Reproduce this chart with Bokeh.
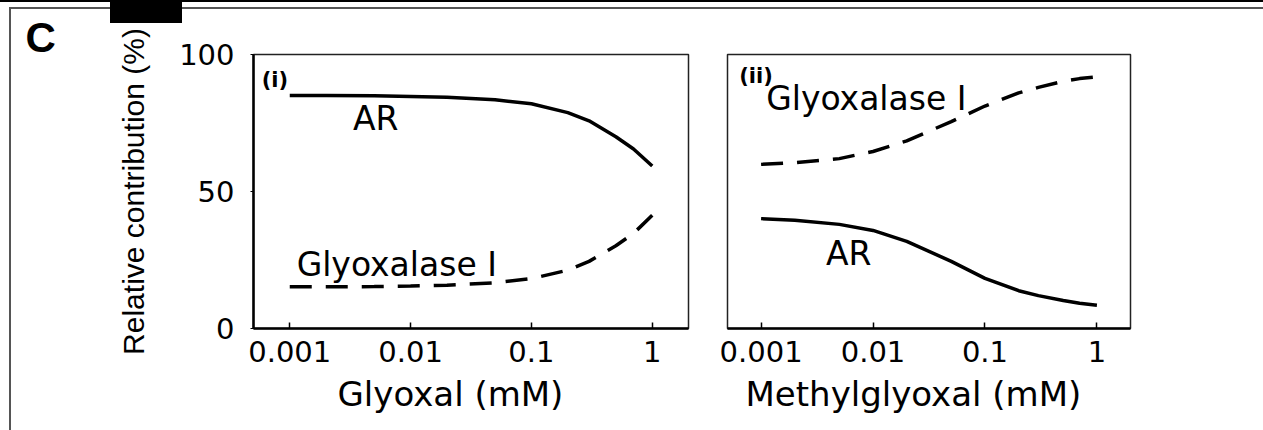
from bokeh.plotting import figure
from bokeh.models import Range1d, FixedTicker, Label, Title
from bokeh.layouts import row
from bokeh.embed import file_html
from bokeh.resources import INLINE

# ---- data ----
conc = [0.001, 0.002, 0.005, 0.01, 0.02, 0.05, 0.1, 0.2, 0.3, 0.5, 0.7, 1.0]

glyoxal_ar = [85.0, 85.0, 84.9, 84.7, 84.4, 83.5, 82.0, 78.8, 75.8, 70.0, 65.5, 59.3]
glyoxal_glo1 = [15.2, 15.2, 15.3, 15.5, 15.8, 16.7, 18.2, 21.3, 24.5, 30.2, 34.7, 41.3]

mgo_glo1 = [59.9, 60.5, 62.0, 64.6, 68.5, 75.5, 81.2, 86.0, 88.0, 90.2, 91.2, 91.8]
mgo_ar = [40.1, 39.5, 38.0, 35.8, 31.8, 24.5, 18.3, 13.8, 12.0, 10.2, 9.2, 8.5]

x_ticks = [0.001, 0.01, 0.1, 1.0]
x_tick_labels = ["0.001", "0.01", "0.1", "1"]
y_ticks = [0, 50, 100]

x_lo, x_hi = 10 ** -3.3, 10 ** 0.3

TXT = "DejaVu Sans"
TICK_SIZE = "29px"
TITLE_SIZE = "34px"
CURVE_LABEL_SIZE = "33px"


def style(p):
    p.outline_line_color = "#222222"
    p.outline_line_width = 1.5
    p.grid.visible = False
    p.background_fill_color = "white"
    p.border_fill_color = None
    ax = p.xaxis[0]
    ax.ticker = FixedTicker(ticks=x_ticks)
    ax.major_label_overrides = {t: l for t, l in zip(x_ticks, x_tick_labels)}
    ax.minor_tick_line_color = None
    ax.major_tick_in = 6
    ax.major_tick_out = 0
    ax.major_tick_line_width = 1.5
    ax.axis_line_width = 2.5
    ax.major_label_standoff = 12
    ax.major_label_text_font = TXT
    ax.major_label_text_font_size = TICK_SIZE
    ax.major_label_text_color = "black"


def xtitle(p, text, offset):
    p.add_layout(Title(text=text, align="left", offset=offset, text_font=TXT,
                       text_font_size=TITLE_SIZE, text_font_style="normal",
                       text_color="black", standoff=15), "below")


# ---- left panel: Glyoxal ----
p1 = figure(width=700, height=430, x_axis_type="log",
            x_range=Range1d(x_lo, x_hi), y_range=Range1d(0, 100),
            output_backend="svg", toolbar_location=None,
            min_border_left=253, min_border_right=12,
            min_border_top=54, min_border_bottom=102)
style(p1)
xtitle(p1, "Glyoxal (mM)", 84)

p1.title.text = "C"
p1.title.align = "left"
p1.title.offset = -228
p1.title.text_font = "Liberation Sans"
p1.title.text_font_style = "bold"
p1.title.text_font_size = "42px"
p1.title.text_color = "black"
p1.title.standoff = -12

ay = p1.yaxis[0]
ay.ticker = FixedTicker(ticks=y_ticks)
ay.minor_tick_line_color = None
ay.major_tick_in = 0
ay.major_tick_out = 3
ay.axis_line_width = 2.5
ay.major_label_standoff = 16
ay.major_label_text_font = TXT
ay.major_label_text_font_size = TICK_SIZE
ay.major_label_text_color = "black"
ay.axis_label = "Relative contribution (%)"
ay.axis_label_text_font = "Liberation Sans"
ay.axis_label_text_font_size = "30px"
ay.axis_label_text_font_style = "normal"
ay.axis_label_text_color = "black"
ay.axis_label_standoff = 26

p1.line(conc, glyoxal_ar, line_color="black", line_width=3.5)
p1.line(conc, glyoxal_glo1, line_color="black", line_width=3.5, line_dash="22 14")

p1.add_layout(Label(x=0.000586, y=94.9, text="(i)", text_font=TXT, text_font_style="bold",
                    text_font_size="21px", text_baseline="top", text_color="black"))
p1.add_layout(Label(x=0.00333, y=76.8, text="AR", text_font=TXT, text_font_size=CURVE_LABEL_SIZE,
                    text_baseline="alphabetic", text_color="black"))
p1.add_layout(Label(x=0.00114, y=23.3, text="Glyoxalase I", text_font=TXT,
                    text_font_size=CURVE_LABEL_SIZE, text_baseline="alphabetic", text_color="black"))

# ---- right panel: Methylglyoxal ----
p2 = figure(width=563, height=430, x_axis_type="log",
            x_range=Range1d(x_lo, x_hi), y_range=Range1d(0, 100),
            output_backend="svg", toolbar_location=None,
            min_border_left=27, min_border_right=133,
            min_border_top=54, min_border_bottom=102)
style(p2)
xtitle(p2, "Methylglyoxal (mM)", 18)
p2.yaxis.visible = False

p2.line(conc, mgo_ar, line_color="black", line_width=3.5)
p2.line(conc, mgo_glo1, line_color="black", line_width=3.5, line_dash="22 14")

p2.add_layout(Label(x=0.000637, y=96.7, text="(ii)", text_font=TXT, text_font_style="bold",
                    text_font_size="21px", text_baseline="top", text_color="black"))
p2.add_layout(Label(x=0.00111, y=84.0, text="Glyoxalase I", text_font=TXT,
                    text_font_size=CURVE_LABEL_SIZE, text_baseline="alphabetic", text_color="black"))
p2.add_layout(Label(x=0.0038, y=27.5, text="AR", text_font=TXT, text_font_size=CURVE_LABEL_SIZE,
                    text_baseline="alphabetic", text_color="black"))

# page frame decorations (top rules, left rule, black tab) as CSS background
bg = ("linear-gradient(#000,#000) 0 0/100% 2px no-repeat, "
      "linear-gradient(#000,#000) 110px 0/72px 23px no-repeat, "
      "linear-gradient(#555,#555) 9px 7px/100% 2px no-repeat, "
      "linear-gradient(#555,#555) 9px 7px/2px 100% no-repeat, #fff")

layout = row(p1, p2, styles={"background": bg})
open("out.html", "w").write(file_html(layout, INLINE))
